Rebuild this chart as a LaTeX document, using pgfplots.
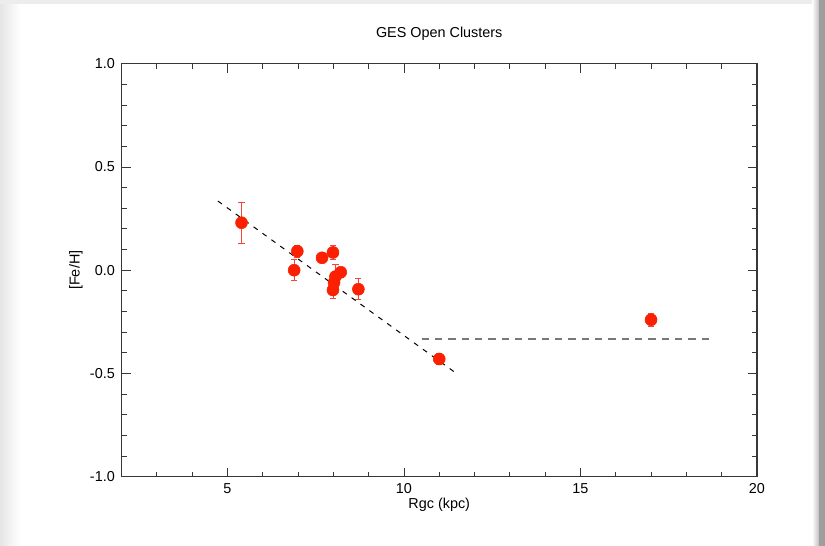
\documentclass[border=0pt]{standalone}
\usepackage{pgfplots}
\pgfplotsset{compat=1.18}
\usepackage{pgfplotstable}
\usepackage{fontspec}
\setmainfont{Liberation Sans}
\definecolor{ptred}{RGB}{250,32,0}
\definecolor{errred}{RGB}{238,72,60}
\definecolor{axgray}{RGB}{55,55,55}
\definecolor{dashgray}{RGB}{120,120,120}
\pgfplotstableread{
x y e
5.40 0.230 0.100
6.98 0.092 0.030
6.89 0.000 0.050
7.68 0.060 0.020
7.99 0.086 0.033
8.21 -0.010 0.025
8.06 -0.031 0.060
8.02 -0.060 0.030
7.99 -0.096 0.040
8.71 -0.092 0.050
11.00 -0.430 0.025
17.00 -0.240 0.030
}\clusters
\begin{document}
\begin{tikzpicture}[x=0.75pt,y=0.75pt]
\fill[white] (0,0) rectangle (825,546);
\shade[left color=black!10,right color=white] (0,0) rectangle (20,546);
\fill[black!7] (0,542) rectangle (825,546);
\shade[left color=white,right color=black!25] (812,0) rectangle (819,546);
\fill[black!38] (819,0) rectangle (825,546);
\begin{axis}[
  at={(91.125pt,51.975pt)}, anchor=south west,
  scale only axis, width=476.6pt, height=309.75pt,
  xmin=2, xmax=20, ymin=-1, ymax=1,
  xtick={5,10,15,20},
  ytick={-1,-0.5,0,0.5,1},
  minor xtick={3,4,6,7,8,9,11,12,13,14,16,17,18,19},
  minor ytick={-0.9,-0.8,-0.7,-0.6,-0.4,-0.3,-0.2,-0.1,0.1,0.2,0.3,0.4,0.6,0.7,0.8,0.9},
  major tick length=6.75pt, minor tick length=3.75pt,
  tick align=inside,
  tick style={axgray, line width=0.6pt},
  axis line style={axgray, line width=0.9pt},
  /pgf/number format/assume math mode=true,
  yticklabel style={/pgf/number format/fixed, /pgf/number format/fixed zerofill, /pgf/number format/precision=1, /pgf/number format/assume math mode=true, xshift=-1.5pt},
  ticklabel style={font=\fontsize{10.8}{12}\selectfont, black},
  xticklabel style={yshift=-1.5pt},
  title={GES Open Clusters},
  title style={at={(axis description cs:0.5,1.0525)}, anchor=center, font=\fontsize{10.8}{13}\selectfont},
  xlabel={Rgc (kpc)},
  xlabel style={at={(axis description cs:0.5,-0.0685)}, anchor=center, font=\fontsize{10.8}{13}\selectfont},
  ylabel={[Fe/H]},
  ylabel style={at={(axis description cs:-0.0716,0.5)}, anchor=center, font=\fontsize{10.8}{13}\selectfont},
]
\addplot[only marks, mark=*, mark size=4.5pt, color=ptred, mark options={fill=ptred, draw=ptred},
  error bars/.cd, y dir=both, y explicit,
  error bar style={errred, line width=0.6pt},
  error mark options={rotate=90, mark size=2.3pt, errred, line width=0.6pt}]
  table[x=x, y=y, y error=e] {\clusters};
\addplot[black, dash pattern=on 3.75pt off 4.5pt, line width=0.75pt] coordinates {(4.73,0.335) (11.52,-0.504)};
\addplot[dashgray, dash pattern=on 5.5pt off 4.5pt, line width=0.9pt] coordinates {(10.5,-0.333) (18.7,-0.333)};
\end{axis}
\end{tikzpicture}
\end{document}
